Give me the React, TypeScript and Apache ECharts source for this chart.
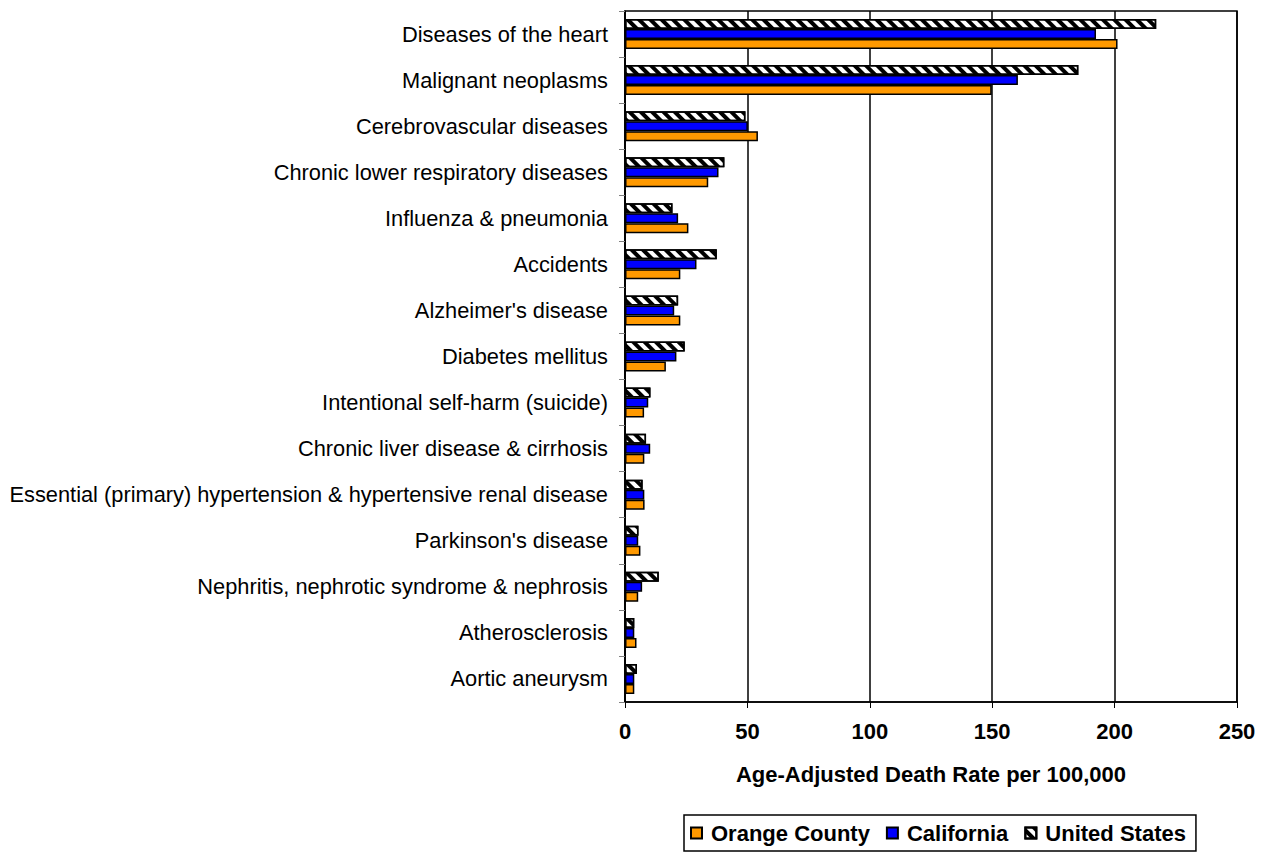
import React, { useEffect, useRef } from "react";
import * as echarts from "echarts";

// Categories listed top-to-bottom as they appear in the chart
const categories: string[] = [
  "Diseases of the heart",
  "Malignant neoplasms",
  "Cerebrovascular diseases",
  "Chronic lower respiratory diseases",
  "Influenza & pneumonia",
  "Accidents",
  "Alzheimer's disease",
  "Diabetes mellitus",
  "Intentional self-harm (suicide)",
  "Chronic liver disease & cirrhosis",
  "Essential (primary) hypertension & hypertensive renal disease",
  "Parkinson's disease",
  "Nephritis, nephrotic syndrome & nephrosis",
  "Atherosclerosis",
  "Aortic aneurysm",
];

const orangeCounty: number[] = [201.2, 149.8, 54.3, 34.0, 25.9, 22.6, 22.6, 16.7, 7.8, 7.9, 8.0, 6.3, 5.4, 4.7, 3.8];
const california: number[] = [192.4, 160.5, 50.2, 38.2, 21.7, 29.2, 20.1, 21.0, 9.5, 10.3, 7.9, 5.4, 7.0, 3.8, 3.8];
const unitedStates: number[] = [217.0, 185.2, 49.2, 40.6, 19.4, 37.5, 21.7, 24.4, 10.4, 8.6, 7.2, 5.5, 13.8, 3.8, 4.9];

const xTicks = { min: 0, max: 250, interval: 50 };
const xAxisTitle = "Age-Adjusted Death Rate per 100,000";
const seriesNames = ["Orange County", "California", "United States"];

const FONT = '"Liberation Sans", Arial, sans-serif';

export default function App() {
  const ref = useRef<HTMLDivElement>(null);

  useEffect(() => {
    if (!ref.current) return;
    const chart = echarts.init(ref.current, undefined, { renderer: "svg" });
    const rev = <T,>(a: T[]) => a.slice().reverse();

    const barCommon = {
      type: "bar" as const,
      barWidth: 10,
      barGap: "0%",
    };

    chart.setOption({
      animation: false,
      backgroundColor: "#ffffff",
      textStyle: { fontFamily: FONT },
      grid: {
        left: 625,
        right: 30,
        top: 11,
        bottom: 153,
        show: true,
        borderColor: "#000",
        borderWidth: 1.5,
        containLabel: false,
      },
      legend: {
        left: 684,
        top: 815,
        orient: "horizontal",
        padding: [7, 10, 7, 6],
        borderColor: "#000",
        borderWidth: 1.5,
        itemWidth: 11,
        itemHeight: 11,
        itemGap: 16,
        icon: "rect",
        textStyle: {
          fontFamily: FONT,
          fontSize: 22,
          fontWeight: "bold",
          color: "#000",
          padding: [0, 0, 0, 4],
        },
        data: seriesNames,
      },
      xAxis: {
        type: "value",
        min: xTicks.min,
        max: xTicks.max,
        interval: xTicks.interval,
        name: xAxisTitle,
        nameLocation: "middle",
        nameGap: 61,
        nameTextStyle: {
          fontFamily: FONT,
          fontSize: 22,
          fontWeight: "bold",
          color: "#000",
        },
        axisLine: { show: true, lineStyle: { color: "#000", width: 1.5 } },
        axisTick: { show: true, length: 6, lineStyle: { color: "#000", width: 1 } },
        axisLabel: {
          margin: 18,
          fontFamily: FONT,
          fontSize: 22,
          fontWeight: "bold",
          color: "#000",
        },
        splitLine: { show: true, lineStyle: { color: "#000", width: 1.5 } },
      },
      yAxis: {
        type: "category",
        data: rev(categories),
        axisLine: { show: true, lineStyle: { color: "#000", width: 1.5 } },
        axisTick: { show: true, length: 6, alignWithLabel: false, lineStyle: { color: "#808080", width: 1 } },
        axisLabel: {
          margin: 17,
          fontFamily: FONT,
          fontSize: 21.8,
          color: "#000",
        },
        splitLine: { show: false },
      },
      series: [
        {
          ...barCommon,
          name: seriesNames[2],
          data: rev(unitedStates),
          itemStyle: {
            color: "#FFFFFF",
            borderColor: "#000",
            borderWidth: 1.5,
            decal: {
              symbol: "rect",
              symbolSize: 1,
              color: "#000",
              backgroundColor: "#FFFFFF",
              dashArrayX: [1, 0],
              dashArrayY: [4, 4],
              rotation: Math.PI / 4,
            },
          },
        },
        {
          ...barCommon,
          name: seriesNames[1],
          data: rev(california),
          itemStyle: { color: "#0000FF", borderColor: "#000", borderWidth: 1.5 },
        },
        {
          ...barCommon,
          name: seriesNames[0],
          data: rev(orangeCounty),
          itemStyle: { color: "#FF9900", borderColor: "#000", borderWidth: 1.5 },
        },
      ],
    });

    return () => chart.dispose();
  }, []);

  return (
    <div
      ref={ref}
      style={{ position: "fixed", left: 0, top: 0, width: 1267, height: 855 }}
    />
  );
}
